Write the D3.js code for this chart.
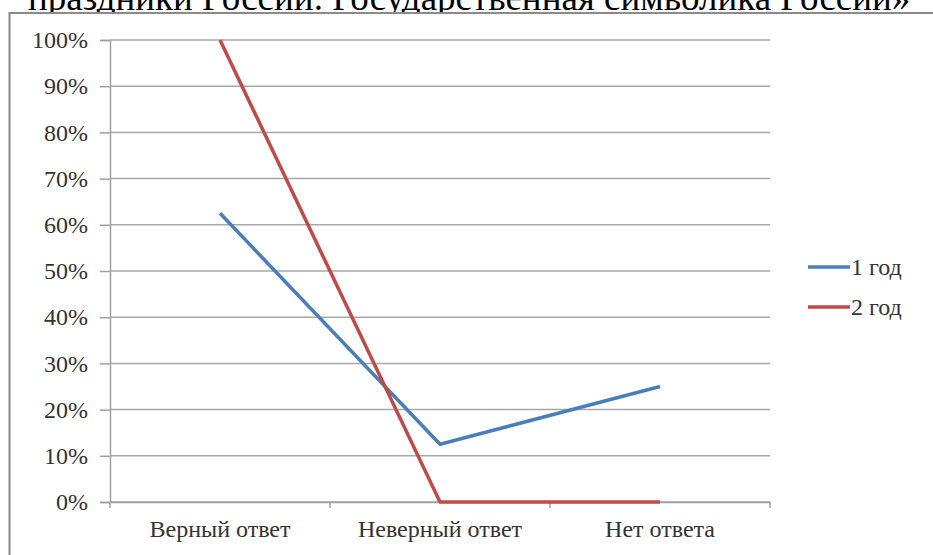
<!DOCTYPE html>
<html>
<head>
<meta charset="utf-8">
<script src="https://cdn.jsdelivr.net/npm/d3@7/dist/d3.min.js"></script>
<style>
  html, body { margin: 0; padding: 0; background: #fff; }
  svg { display: block; }
</style>
</head>
<body>
<svg id="chart" width="933" height="555"></svg>
<script>
const titleText = "праздники России. Государственная символика России»";
const categories = ["Верный ответ", "Неверный ответ", "Нет ответа"];
const seriesNames = ["1 год", "2 год"];
const series1 = [0.625, 0.125, 0.25];
const series2 = [1.0, 0.0, 0.0];
const yTicks = [0, 0.1, 0.2, 0.3, 0.4, 0.5, 0.6, 0.7, 0.8, 0.9, 1.0];
const colors = ["#4A7EBB", "#BE4B48"];

const svg = d3.select("#chart");
const font = "'Liberation Serif', 'Times New Roman', serif";
const fs = 24;

// clipped title at top
svg.append("text")
  .attr("x", 28).attr("y", 10)
  .attr("font-family", font).attr("font-size", 37)
  .attr("fill", "#000")
  .text(titleText);

// outer chart border
svg.append("rect")
  .attr("x", 9.5).attr("y", 13).attr("width", 1000).attr("height", 600)
  .attr("fill", "#fff").attr("stroke", "#8a8a8a").attr("stroke-width", 2);

const plot = {left: 110, right: 770, top: 40, bottom: 502};

const x = d3.scaleBand().domain(categories).range([plot.left, plot.right]);
const y = d3.scaleLinear().domain([0, 1]).range([plot.bottom, plot.top]);

// gridlines
svg.append("g").selectAll("line").data(yTicks).join("line")
  .attr("x1", plot.left).attr("x2", plot.right)
  .attr("y1", d => y(d)).attr("y2", d => y(d))
  .attr("stroke", "#a8a8a8").attr("stroke-width", 1.5);

// y axis
const yAxis = d3.axisLeft(y).tickValues(yTicks).tickFormat(d3.format(".0%")).tickSize(10).tickPadding(12);
const gy = svg.append("g").attr("transform", `translate(${plot.left},0)`).call(yAxis);
gy.select(".domain").attr("stroke", "#a0a0a0").attr("stroke-width", 1.5);
gy.selectAll(".tick line").attr("stroke", "#a0a0a0").attr("stroke-width", 1.5);
gy.selectAll(".tick text").attr("font-family", font).attr("font-size", fs).attr("fill", "#333");

// x axis
const xAxis = d3.axisBottom(x).tickSize(0).tickPadding(18);
const gx = svg.append("g").attr("transform", `translate(0,${plot.bottom})`).call(xAxis);
gx.select(".domain").attr("stroke", "#a0a0a0").attr("stroke-width", 1.5);
gx.selectAll(".tick text").attr("font-family", font).attr("font-size", fs).attr("fill", "#333").attr("dy", "0.71em");
// category boundary ticks
const bounds = categories.map(c => x(c)).concat([x(categories[categories.length-1]) + x.bandwidth()]);
svg.append("g").selectAll("line").data(bounds).join("line")
  .attr("x1", d => d).attr("x2", d => d)
  .attr("y1", plot.bottom).attr("y2", plot.bottom + 6)
  .attr("stroke", "#a0a0a0").attr("stroke-width", 1.5);

// lines
const line = d3.line().x((d, i) => x(categories[i]) + x.bandwidth() / 2).y(d => y(d));
[series1, series2].forEach((s, k) => {
  svg.append("path").datum(s)
    .attr("d", line)
    .attr("fill", "none").attr("stroke", colors[k]).attr("stroke-width", 3.5)
    .attr("stroke-linejoin", "round");
});

// legend
const legY = [267, 307];
seriesNames.forEach((n, k) => {
  svg.append("line").attr("x1", 808).attr("x2", 850).attr("y1", legY[k]).attr("y2", legY[k])
    .attr("stroke", colors[k]).attr("stroke-width", 3.5);
  svg.append("text").attr("x", 851).attr("y", legY[k]).attr("dy", "0.35em")
    .attr("font-family", font).attr("font-size", fs).attr("fill", "#333").text(n);
});
</script>
</body>
</html>
